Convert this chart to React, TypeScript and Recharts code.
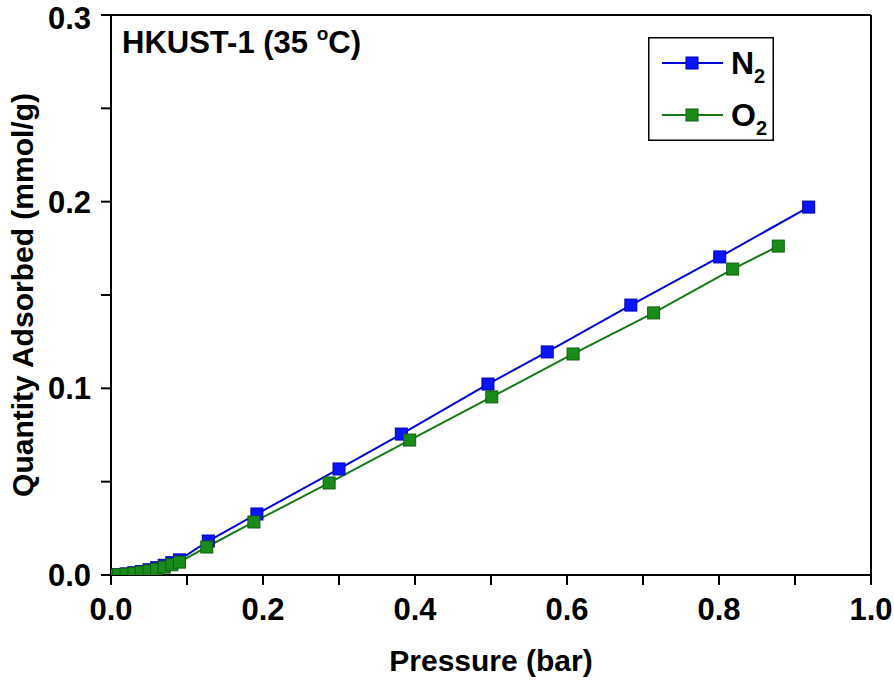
import React from "react";
import {
  LineChart,
  Line,
  XAxis,
  YAxis,
  Legend,
  ReferenceLine,
  Label,
} from "recharts";

// pressure (bar) / quantity adsorbed (mmol/g)
const n2Pressure = [0, 0.01, 0.02, 0.03, 0.04, 0.05, 0.06, 0.07, 0.08, 0.09, 0.128, 0.192, 0.3, 0.382, 0.496, 0.574, 0.684, 0.801, 0.918];
const n2Uptake = [0, 0.0002, 0.0006, 0.0012, 0.0019, 0.0028, 0.0039, 0.0052, 0.0066, 0.0081, 0.0182, 0.0327, 0.0568, 0.0755, 0.1023, 0.1195, 0.1446, 0.1704, 0.1971];

const o2Pressure = [0, 0.01, 0.02, 0.03, 0.04, 0.05, 0.06, 0.07, 0.08, 0.09, 0.126, 0.188, 0.287, 0.393, 0.501, 0.608, 0.714, 0.818, 0.878];
const o2Uptake = [0, 0.0001, 0.0004, 0.0009, 0.0015, 0.0022, 0.0031, 0.0042, 0.0055, 0.0069, 0.015, 0.0284, 0.0493, 0.0723, 0.0954, 0.1184, 0.1404, 0.1639, 0.1762];

const xTicks = [0, 0.1, 0.2, 0.3, 0.4, 0.5, 0.6, 0.7, 0.8, 0.9, 1.0];
const yTicks = [0, 0.05, 0.1, 0.15, 0.2, 0.25, 0.3];

const series = [
  { key: "N", sub: "2", line: "#0000d8", fill: "#0a14ff", edge: "#0000b0" },
  { key: "O", sub: "2", line: "#167a16", fill: "#1a8a1a", edge: "#0f600f" },
];

const toRows = (ps: number[], qs: number[]) => ps.map((p, i) => ({ p, q: qs[i] }));
const n2Data = toRows(n2Pressure, n2Uptake);
const o2Data = toRows(o2Pressure, o2Uptake);

const FONT = "'Liberation Sans', Arial, sans-serif";

const squareDot = (fill: string, edge: string) => (props: any) => (
  <rect
    key={`d-${props.index}`}
    x={props.cx - 6}
    y={props.cy - 6}
    width={12}
    height={12}
    fill={fill}
    stroke={edge}
    strokeWidth={1}
  />
);

const renderLegend = () => (
  <svg width={126} height={104} style={{ display: "block" }}>
    <rect x={0.75} y={0.75} width={124.5} height={102.5} fill="#fff" stroke="#000" strokeWidth={1.5} />
    {series.map((s, i) => {
      const y = 26 + i * 52;
      return (
        <g key={s.key}>
          <line x1={14} x2={38} y1={y} y2={y} stroke={s.line} strokeWidth={2} />
          <line x1={50} x2={75} y1={y} y2={y} stroke={s.line} strokeWidth={2} />
          <rect x={38} y={y - 6} width={12} height={12} fill={s.fill} stroke={s.edge} />
          <text x={83} y={y + 11} fontFamily={FONT} fontWeight="bold" fontSize={32} fill="#000">
            {s.key}
            <tspan fontSize={20} dy={9}>{s.sub}</tspan>
          </text>
        </g>
      );
    })}
  </svg>
);

const YTitle = (props: any) => {
  const vb = props.viewBox;
  const cx = 22;
  const cy = vb.y + vb.height / 2;
  return (
    <text
      x={cx}
      y={cy}
      transform={`rotate(-90 ${cx} ${cy})`}
      textAnchor="middle"
      dominantBaseline="central"
      fontFamily={FONT}
      fontWeight="bold"
      fontSize={30}
      fill="#000"
    >
      Quantity Adsorbed (mmol/g)
    </text>
  );
};

const tickStyle = { fill: "#000", fontSize: 31, fontWeight: "bold", fontFamily: FONT };

const App: React.FC = () => {
  return (
    <div style={{ position: "relative", width: 894, height: 685, background: "#fff" }}>
      <style>{`body{margin:0}`}</style>
      <LineChart
        width={894}
        height={685}
        margin={{ top: 15, right: 23, bottom: 0, left: 11 }}
      >
        <XAxis
          type="number"
          dataKey="p"
          domain={[0, 1]}
          ticks={xTicks}
          tickFormatter={(v: number, i: number) => (i % 2 === 0 ? v.toFixed(1) : "")}
          height={110}
          tickSize={10}
          tickMargin={13}
          axisLine={{ stroke: "#000", strokeWidth: 2 }}
          tickLine={{ stroke: "#000", strokeWidth: 2 }}
          tick={tickStyle}
          allowDataOverflow
        >
          <Label
            value="Pressure (bar)"
            position="insideBottom"
            offset={14}
            style={{ fill: "#000", fontSize: 30, fontWeight: "bold", fontFamily: FONT }}
          />
        </XAxis>
        <YAxis
          type="number"
          dataKey="q"
          domain={[0, 0.3]}
          ticks={yTicks}
          tickFormatter={(v: number, i: number) => (i % 2 === 0 ? v.toFixed(1) : "")}
          width={100}
          tickSize={10}
          tickMargin={10}
          axisLine={{ stroke: "#000", strokeWidth: 2 }}
          tickLine={{ stroke: "#000", strokeWidth: 2 }}
          tick={tickStyle}
          allowDataOverflow
        >
          <Label content={YTitle} />
        </YAxis>
        <ReferenceLine y={0.3} stroke="#000" strokeWidth={2} />
        <ReferenceLine x={1} stroke="#000" strokeWidth={2} />
        <Legend
          layout="vertical"
          align="center"
          verticalAlign="middle"
          content={renderLegend}
          wrapperStyle={{ position: "absolute", left: 648, top: 37, width: 126, height: 104 }}
        />
        <Line
          data={n2Data}
          dataKey="q"
          name="N2"
          type="linear"
          stroke={series[0].line}
          strokeWidth={2}
          dot={squareDot(series[0].fill, series[0].edge)}
          activeDot={false}
          isAnimationActive={false}
        />
        <Line
          data={o2Data}
          dataKey="q"
          name="O2"
          type="linear"
          stroke={series[1].line}
          strokeWidth={2}
          dot={squareDot(series[1].fill, series[1].edge)}
          activeDot={false}
          isAnimationActive={false}
        />
      </LineChart>
      <svg
        width={320}
        height={50}
        style={{ position: "absolute", left: 112, top: 22, pointerEvents: "none" }}
      >
        <text x={10} y={31} fontFamily={FONT} fontWeight="bold" fontSize={31} fill="#000">
          {"HKUST-1 (35 "}
          <tspan fontSize={19} dy={-13}>o</tspan>
          <tspan dy={13}>C)</tspan>
        </text>
      </svg>
    </div>
  );
};

export default App;
